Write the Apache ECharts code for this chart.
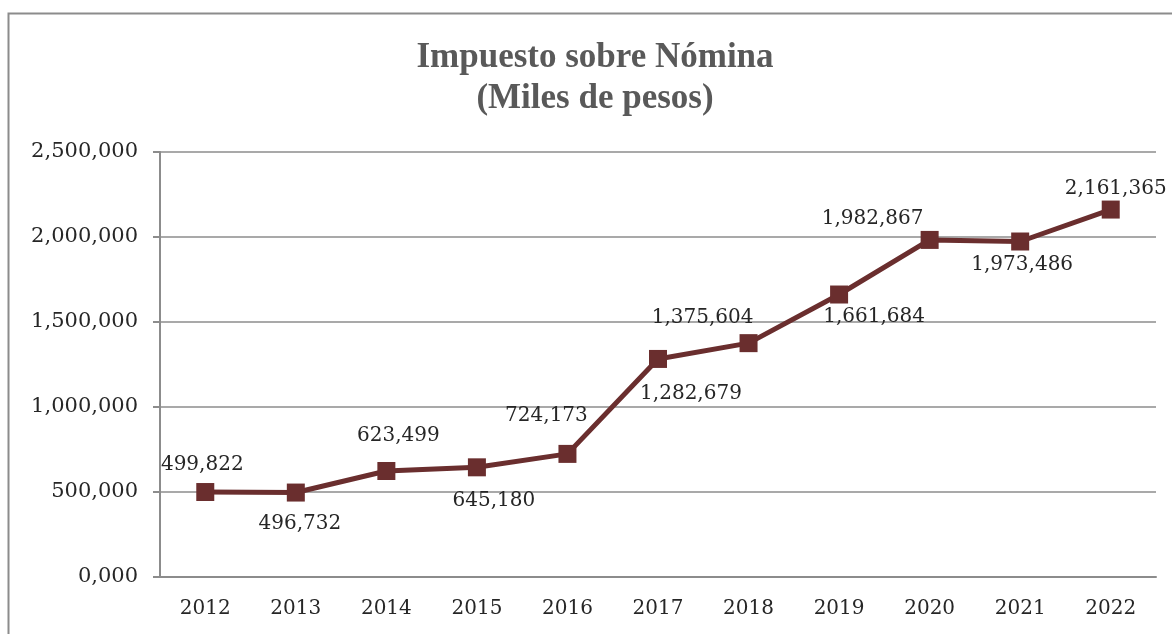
<!DOCTYPE html>
<html>
<head>
<meta charset="utf-8">
<script src="https://cdn.jsdelivr.net/npm/echarts@6/dist/echarts.min.js"></script>
<style>
  html, body { margin: 0; padding: 0; background: #fff; }
  #chart { width: 1172px; height: 634px; }
</style>
</head>
<body>
<div id="chart"></div>
<script>
var years = ['2012','2013','2014','2015','2016','2017','2018','2019','2020','2021','2022'];
var recaudacion = [499822, 496732, 623499, 645180, 724173, 1282679, 1375604, 1661684, 1982867, 1973486, 2161365];
var yTicks = [0, 500000, 1000000, 1500000, 2000000, 2500000];

// where each value label sits relative to its marker (alternating above/below like the original)
var labelOffsets = [[-3,-27],[4,31],[12,-35],[17,33],[-21,-38],[33,35],[-46,-25],[35,22],[-57,-21],[2,23],[5,-21]];

function fmt(v) {
    return String(v).replace(/\B(?=(\d{3})+(?!\d))/g, ',');
}

var myChart = echarts.init(document.getElementById('chart'));
var gris = '#8c8c8c';
var serif = 'DejaVu Serif';

option = {
    animation: false,
    title: {
        text: 'Impuesto sobre Nómina\n(Miles de pesos)',
        left: 590,
        top: 32,
        textAlign: 'center',
        textStyle: {
            fontFamily: 'Liberation Serif',
            fontWeight: 'bold',
            fontSize: 35,
            lineHeight: 41,
            color: '#595959'
        }
    },
    graphic: [{
        type: 'rect',
        shape: { x: 8.5, y: 13.5, width: 1300, height: 700 },
        style: { fill: 'none', stroke: gris, lineWidth: 2 },
        silent: true
    }],
    grid: { left: 160, right: 16, top: 152, bottom: 57 },
    xAxis: {
        type: 'category',
        data: years,
        axisLine: { lineStyle: { color: gris, width: 2 } },
        axisTick: { length: 7, lineStyle: { color: gris, width: 2 } },
        axisLabel: { margin: 22, fontFamily: serif, fontSize: 20, color: '#262626' }
    },
    yAxis: {
        type: 'value',
        min: 0,
        max: yTicks[yTicks.length - 1],
        interval: yTicks[1] - yTicks[0],
        axisLine: { show: true, lineStyle: { color: gris, width: 2 } },
        axisTick: { show: true, length: 7, lineStyle: { color: gris, width: 2 } },
        splitLine: { lineStyle: { color: gris, width: 1.5 } },
        axisLabel: {
            margin: 22,
            fontFamily: serif,
            fontSize: 21,
            color: '#262626',
            formatter: function (v) { return v === 0 ? '0,000' : fmt(v); }
        }
    },
    series: [{
        type: 'line',
        data: recaudacion.map(function (v, i) {
            return { value: v, label: { offset: labelOffsets[i] } };
        }),
        symbol: 'rect',
        symbolSize: 18,
        lineStyle: { color: '#6a2e2e', width: 5 },
        itemStyle: { color: '#6a2e2e' },
        label: {
            show: true,
            position: 'inside',
            fontFamily: serif,
            fontSize: 20,
            color: '#262626',
            formatter: function (p) { return fmt(p.value); }
        }
    }]
};
myChart.setOption(option);
</script>
</body>
</html>
